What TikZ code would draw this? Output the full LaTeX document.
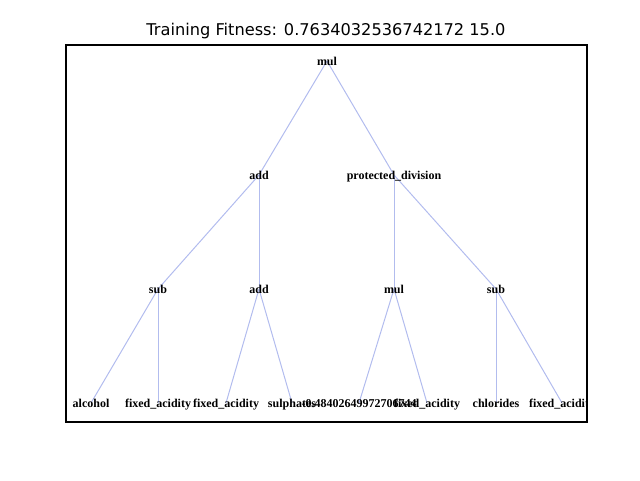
\documentclass[tikz,border=0pt]{standalone}
\usepackage{fontspec}
\setmainfont{Liberation Serif}
\newfontfamily\titlefont{DejaVu Sans}
\usetikzlibrary{backgrounds}
\definecolor{edgecol}{RGB}{178,188,238}
\tikzset{
  lbl/.style={inner sep=0pt, anchor=center, text height=10pt, text depth=1.5pt, font=\fontsize{12}{14}\selectfont\bfseries},
  edge/.style={draw=edgecol, line width=1pt},
  frame/.style={draw=black, line width=1.1pt}
}
\begin{document}
\begin{tikzpicture}[x=1pt,y=-1pt]
\useasboundingbox (0,0) rectangle (640,480);
\node[inner sep=0pt, font=\titlefont\fontsize{16.2}{19}\selectfont] (title) at (326,31) {Training Fitness: 0.7634032536742172 15.0};
\begin{scope}
\clip (66,45) rectangle (587,422);
\node[lbl] (n0) at (327,61) {mul};
\node[lbl] (n1) at (259,175) {add};
\node[lbl] (n2) at (394,175) {protected\_division};
\node[lbl] (n3) at (158,289) {sub};
\node[lbl] (n4) at (259,289) {add};
\node[lbl] (n5) at (394,289) {mul};
\node[lbl] (n6) at (496,289) {sub};
\node[lbl] (l1) at (91,403) {alcohol};
\node[lbl] (l2) at (158,403) {fixed\_acidity};
\node[lbl] (l3) at (226,403) {fixed\_acidity};
\node[lbl] (l4) at (292,403) {sulphates};
\node[lbl] (l5) at (359,403) {-0.48402649972706744};
\node[lbl] (l6) at (427,403) {fixed\_acidity};
\node[lbl] (l7) at (496,403) {chlorides};
\node[lbl] (l8) at (562,403) {fixed\_acidity};
\begin{scope}[on background layer]
\draw[edge] (n0.center) -- (n1.center);
\draw[edge] (n0.center) -- (n2.center);
\draw[edge] (n1.center) -- (n3.center);
\draw[edge] (n1.center) -- (n4.center);
\draw[edge] (n2.center) -- (n5.center);
\draw[edge] (n2.center) -- (n6.center);
\draw[edge] (n3.center) -- (l1.center);
\draw[edge] (n3.center) -- (l2.center);
\draw[edge] (n4.center) -- (l3.center);
\draw[edge] (n4.center) -- (l4.center);
\draw[edge] (n5.center) -- (l5.center);
\draw[edge] (n5.center) -- (l6.center);
\draw[edge] (n6.center) -- (l7.center);
\draw[edge] (n6.center) -- (l8.center);
\end{scope}
\end{scope}
\draw[frame] (66,45) rectangle (587,422);
\end{tikzpicture}
\end{document}
